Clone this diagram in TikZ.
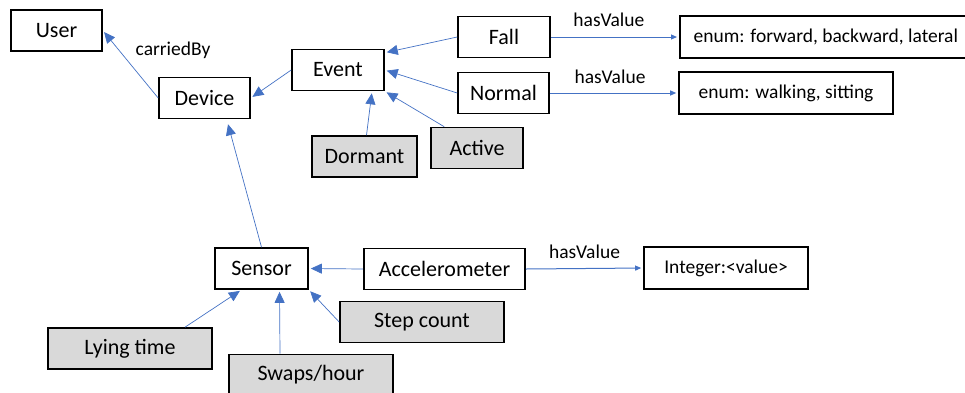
\documentclass[tikz,border=0pt]{standalone}
\usepackage{fontspec}
\setmainfont{Carlito}
\usetikzlibrary{arrows.meta}
\definecolor{lineblue}{HTML}{4472C4}
\definecolor{boxgray}{HTML}{D9D9D9}

\begin{document}
\begin{tikzpicture}[x=1pt, y=-1pt, shorten >=2pt,
    box/.style={draw, line width=1.6pt, minimum height=41pt, inner sep=2pt,
                font=\fontsize{22}{26}\selectfont},
    attr/.style={box, fill=boxgray},
    val/.style={draw, line width=1.6pt, minimum height=42pt, inner sep=2pt,
                font=\fontsize{19.5}{23}\selectfont},
    isa/.style={-{Triangle[length=11pt, width=10pt]}, lineblue, line width=0.7pt},
    rel/.style={-{Triangle[length=6pt, width=5pt]}, lineblue, line width=1pt},
    lbl/.style={text=black, font=\fontsize{19.5}{23}\selectfont}]
    \useasboundingbox (0,0) rectangle (965,392);

    % classes
    \node[box, minimum width=91pt] (user) at (56.5,30.5) {User};
    \node[box, minimum width=91pt] (dev) at (204.5,98) {Device};
    \node[box, minimum width=92pt] (evt) at (338,70) {Event};
    \node[box, minimum width=92pt] (fall) at (504,37) {Fall};
    \node[box, minimum width=91pt] (norm) at (503.5,93) {Normal};
    \node[box, minimum width=93pt] (sen) at (261.5,268.5) {Sensor};
    \node[box, minimum width=161pt] (acc) at (444.5,269) {Accelerometer};

    % states and features
    \node[attr, minimum width=105pt] (dorm) at (364.5,156.5) {Dormant};
    \node[attr, minimum width=92pt] (act) at (477,148) {Active};
    \node[attr, minimum width=164pt] (ly) at (130,348.5) {Lying time};
    \node[attr, minimum width=164pt] (sw) at (311,375) {Swaps/hour};
    \node[attr, minimum width=164pt] (stp) at (422,322) {Step count};

    % values
    \node[val, anchor=west, minimum width=292pt, inner xsep=11pt]
          (efall) at (679,37) {enum: forward, backward, lateral};
    \node[val, minimum width=214pt] (enorm) at (786,93) {enum: walking, sitting};
    \node[val, minimum width=164pt] (int) at (726,268) {Integer:<value>};

    % hierarchy
    \draw[isa] (dev.west) -- (user.east);
    \node[lbl] (carried) at (173,50) {carriedBy};
    \draw[isa] (evt.west) -- (dev.east);
    \draw[isa] (sen.north) -- ([xshift=23pt, yshift=-3pt]dev.south);
    \draw[isa] ([xshift=2pt]dorm.north) -- ([xshift=34pt]evt.south);
    \draw[isa] ([xshift=14pt]act.north west) -- (evt.south east);
    \draw[isa] (fall.west) -- ([yshift=-4pt]evt.north east);
    \draw[isa] (norm.west) -- (evt.east);
    \draw[isa] (acc.west) -- (sen.east);
    \draw[isa] ([xshift=55pt]ly.north) -- ([xshift=-20pt]sen.south);
    \draw[isa] ([xshift=-31pt]sw.north) -- ([xshift=18pt]sen.south);
    \draw[isa] (stp.west) -- (sen.south east);

    % values
    \path (fall.east) edge[rel] node[lbl, above=7pt, xshift=-6pt] {hasValue} (efall.west)
          (norm.east) edge[rel] node[lbl, above=6pt, xshift=-4pt] {hasValue} (enorm.west)
          (acc.east)  edge[rel] node[lbl, above=6pt] {hasValue} (int.west);

\end{tikzpicture}
\end{document}
